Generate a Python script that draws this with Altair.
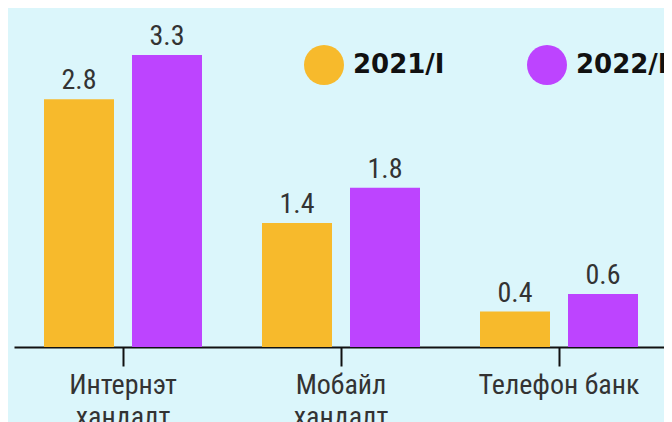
import altair as alt
import pandas as pd

categories = ["Интернэт хандалт", "Мобайл хандалт", "Телефон банк"]
series = ["2021/I", "2022/I"]
values_2021 = [2.8, 1.4, 0.4]
values_2022 = [3.3, 1.8, 0.6]
colors = ["#F7BA2C", "#BD44FF"]

rows = []
for i, c in enumerate(categories):
    rows.append({"category": c, "series": series[0], "value": values_2021[i]})
    rows.append({"category": c, "series": series[1], "value": values_2022[i]})
df = pd.DataFrame(rows)

FONT = "Roboto Condensed, Liberation Sans Narrow, DejaVu Sans Condensed, Roboto, sans-serif"

x = alt.X(
    "category:N",
    sort=categories,
    scale=alt.Scale(paddingInner=60 / 218, paddingOuter=30 / 218, range=[0, 654]),
    axis=alt.Axis(
        title=None,
        labelAngle=0,
        labelExpr="datum.label == 'Телефон банк' ? datum.label : split(datum.label, ' ')",
        labelFont=FONT,
        labelFontSize=28,
        labelColor="#333333",
        labelLineHeight=32,
        labelPadding=5,
        domainColor="#111111",
        domainWidth=2,
        tickColor="#111111",
        tickWidth=2,
        tickSize=19,
        grid=False,
    ),
)
xo = alt.XOffset("series:N", sort=series, scale=alt.Scale(paddingInner=18 / 88, paddingOuter=0))
y = alt.Y("value:Q", scale=alt.Scale(domain=[0, 3.83], nice=False, zero=True), axis=None)

bars = alt.Chart(df).mark_bar().encode(
    x=x,
    xOffset=xo,
    y=y,
    color=alt.Color(
        "series:N",
        scale=alt.Scale(domain=series, range=colors),
        legend=alt.Legend(
            title=None,
            orient="none",
            legendX=290,
            legendY=37,
            direction="horizontal",
            symbolType="circle",
            symbolSize=1600,
            symbolStrokeWidth=0,
            symbolOpacity=1,
            labelFont="DejaVu Sans",
            labelFontWeight="bold",
            labelFontSize=26,
            labelColor="#111111",
            labelOffset=9,
            columnPadding=82,
            padding=0,
        ),
    ),
)

text = alt.Chart(df).mark_text(
    baseline="alphabetic", dy=-10, font=FONT, fontSize=28, color="#333333"
).encode(x=x, xOffset=xo, y=y, text=alt.Text("value:Q", format=".1f"))

chart = (bars + text).properties(
    width=650,
    height=339,
    autosize=alt.AutoSizeParams(type="none"),
    padding={"left": 6, "top": 0, "right": 0, "bottom": 75},
    background="#dbf6fb",
).configure_view(stroke=None)

chart.save("out.html", embed_options={"renderer": "svg", "actions": False})
